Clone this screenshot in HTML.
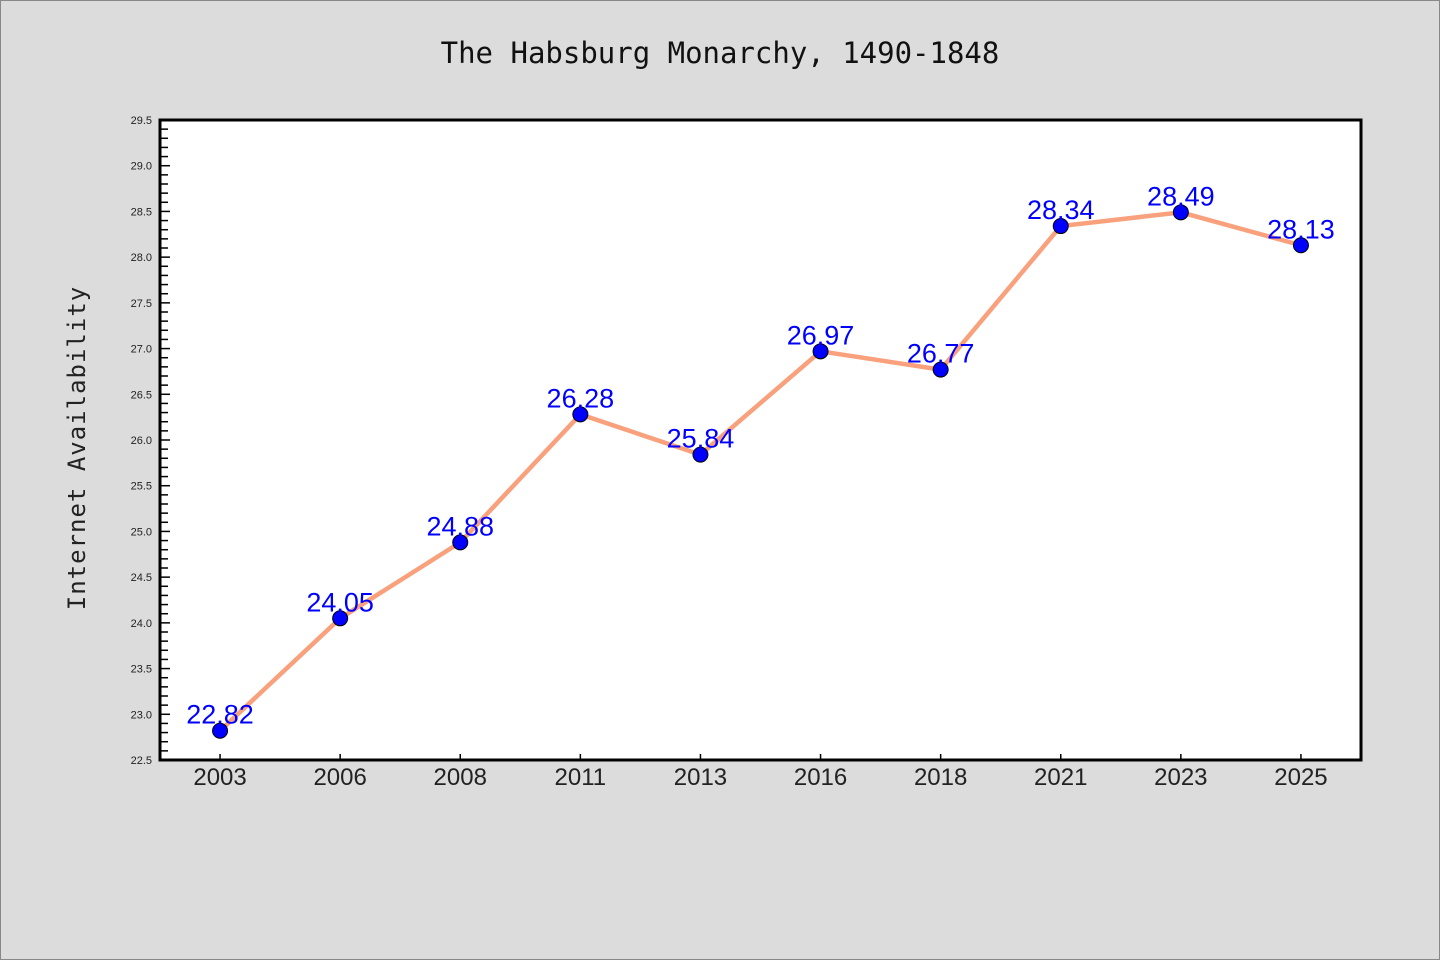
<!DOCTYPE html>
<html><head><meta charset="utf-8"><style>body{margin:0;background:#dcdcdc}svg{display:block}</style></head>
<body>
<svg width="1440" height="960" xmlns="http://www.w3.org/2000/svg" font-family="'Liberation Sans', 'DejaVu Sans', sans-serif">
<rect x="0.5" y="0.5" width="1439" height="959" fill="#dcdcdc" stroke="#888"/>
<text x="720" y="63" text-anchor="middle" font-size="29" font-family="'DejaVu Sans Mono','Liberation Mono',monospace" fill="#111">The Habsburg Monarchy, 1490-1848</text>
<text transform="translate(85,448) rotate(-90)" text-anchor="middle" font-size="24" font-family="'DejaVu Sans Mono','Liberation Mono',monospace" fill="#222" letter-spacing="1">Internet Availability</text>
<rect x="160" y="120" width="1201" height="640" fill="#fff"/>
<g id="yaxis"></g>
<g id="xaxis"></g>
<g id="series"></g>
<rect x="160" y="120" width="1201" height="640" fill="none" stroke="#000" stroke-width="3"/>
</svg>
<script>
const categories = ["2003","2006","2008","2011","2013","2016","2018","2021","2023","2025"];
const values = [22.82,24.05,24.88,26.28,25.84,26.97,26.77,28.34,28.49,28.13];
const yTicks = ["22.5","23.0","23.5","24.0","24.5","25.0","25.5","26.0","26.5","27.0","27.5","28.0","28.5","29.0","29.5"];
const NS="http://www.w3.org/2000/svg";
const L=160,R=1361,T=120,B=760,yMin=22.5,yMax=29.5;
const y=v=>B-(v-yMin)/(yMax-yMin)*(B-T);
const band=(R-L)/categories.length;
const x=i=>L+band*(i+0.5);
function mk(t,a,p){const e=document.createElementNS(NS,t);for(const k in a)e.setAttribute(k,a[k]);p.appendChild(e);return e;}
const ya=document.getElementById('yaxis'),xa=document.getElementById('xaxis'),sg=document.getElementById('series');
for(let k=0;k<=70;k++){const v=yMin+k*0.1;const maj=k%5===0;
 const ln=mk('line',{x1:L,x2:L+(maj?10:8),y1:y(v),y2:y(v),stroke:'#000','stroke-width':1.5},ya);
 
 }
yTicks.forEach(t=>{const e=mk('text',{x:L-8,y:y(+t)+4,'text-anchor':'end','font-size':11,fill:'#222'},ya);e.textContent=t;
 
 });
categories.forEach((c,i)=>{const ln=mk('line',{x1:x(i),x2:x(i),y1:B,y2:B-6,stroke:'#000','stroke-width':1.5},xa);
 
 
 const e=mk('text',{x:x(i),y:B+25,'text-anchor':'middle','font-size':24,fill:'#222'},xa);e.textContent=c;
 
 });
const pl=mk('polyline',{points:values.map((v,i)=>x(i)+','+y(v)).join(' '),fill:'none',stroke:'#f9a07c','stroke-width':4.5,'stroke-linejoin':'round'},sg);


values.forEach((v,i)=>{const c=mk('circle',{cx:x(i),cy:y(v),r:7.5,fill:'#0000ff',stroke:'#000','stroke-width':1},sg);
 
 
 const t=mk('text',{x:x(i),y:y(v)-7,'text-anchor':'middle','font-size':27,fill:'#0000ff'},sg);t.textContent=v.toFixed(2);
 
 });
</script>
</body></html>
